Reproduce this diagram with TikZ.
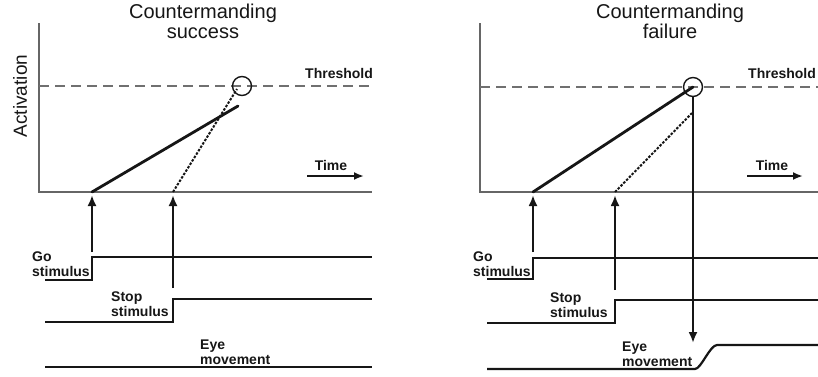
\documentclass[tikz,border=0pt]{standalone}
\usepackage{fontspec}
\setmainfont{Liberation Sans}
\usetikzlibrary{arrows.meta}
\definecolor{ink}{HTML}{161616}
\definecolor{axisgray}{HTML}{666666}
\definecolor{threshgray}{HTML}{707070}
\begin{document}
\begin{tikzpicture}[x=1pt,y=-1pt,
  axis/.style={draw=axisgray, line width=1.7pt},
  thresh/.style={draw=threshgray, line width=2pt, dash pattern=on 10pt off 6pt},
  gotrace/.style={draw=ink, line width=2.8pt, line cap=round},
  stoptrace/.style={draw=ink, line width=2pt, dash pattern=on 2.5pt off 1.5pt},
  signal/.style={draw=ink, line width=2.2pt},
  cue/.style={draw=ink, line width=2.3pt, -{Latex[length=11pt,width=9pt]}},
  timearrow/.style={draw=ink, line width=2.2pt, -{Latex[length=10pt,width=8pt]}},
  ring/.style={draw=ink, line width=1.4pt, circle, minimum size=19pt, inner sep=0pt},
  title/.style={font=\fontsize{20}{20}\selectfont, align=center, text=ink, inner sep=0pt},
  lbl/.style={font=\bfseries\fontsize{14}{15}\selectfont, align=left, text=ink, inner sep=0pt},
]
\useasboundingbox (0,0) rectangle (818,376);

% ---------------- left panel: countermanding success ----------------
\node[title, anchor=north] (Ltitle) at (203,4) {Countermanding\\success};
\node[font=\fontsize{19}{19}\selectfont, text=ink, rotate=90] (act) at (20,96) {Activation};

\coordinate (Lorig) at (39,192);
\coordinate (Ltop) at (39,23);
\coordinate (Lright) at (372,192);
\draw[axis] (Ltop) -- (Lorig) -- (Lright);

\coordinate (Lth0) at (39,86);
\coordinate (Lth1) at (375,86);
\draw[thresh] (Lth0) -- (Lth1);
\node[lbl, anchor=north west] (Lthr) at (305,68) {Threshold};

\node[ring] (Lhit) at (242,86) {};
\coordinate (Lgo) at (92,192);
\coordinate (Lgoend) at (238,106);
\coordinate (Lstop) at (173,192);
\coordinate (Lstopend) at (237,89);
\draw[gotrace] (Lgo) -- (Lgoend);
\draw[stoptrace] (Lstop) -- (Lstopend);

\coordinate (Lt0) at (307,176);
\coordinate (Lt1) at (364,176);
\draw[timearrow] (Lt0) -- (Lt1);
\node[lbl, anchor=base] (Ltime) at (331,170) {Time};

% stimulus and response traces
\coordinate (Lg0) at (45,280);
\coordinate (Lg1) at (92,280);
\coordinate (Lg2) at (92,257);
\coordinate (Lg3) at (372,257);
\draw[signal] (Lg0) -- (Lg1) -- (Lg2) -- (Lg3);
\node[lbl, anchor=north west] (Lgolbl) at (32,252) {Go\\stimulus};
\coordinate (Lgocue) at (92,252);
\draw[cue, shorten >=3pt] (Lgocue) -- (Lgo);

\coordinate (Ls0) at (45,322);
\coordinate (Ls1) at (173,322);
\coordinate (Ls2) at (173,299);
\coordinate (Ls3) at (372,299);
\draw[signal] (Ls0) -- (Ls1) -- (Ls2) -- (Ls3);
\node[lbl, anchor=north west] (Lstoplbl) at (111,292) {Stop\\stimulus};
\coordinate (Lstopcue) at (173,288);
\draw[cue, shorten >=3pt] (Lstopcue) -- (Lstop);

\coordinate (Le0) at (45,367);
\coordinate (Le1) at (372,367);
\draw[signal] (Le0) -- (Le1);
\node[lbl, anchor=north west] (Leyelbl) at (200,340) {Eye\\movement};

% ---------------- right panel: countermanding failure ----------------
\node[title, anchor=north] (Rtitle) at (670,4) {Countermanding\\failure};

\coordinate (Rorig) at (480,192);
\coordinate (Rtop) at (480,23);
\coordinate (Rright) at (818,192);
\draw[axis] (Rtop) -- (Rorig) -- (Rright);

\coordinate (Rth0) at (480,87);
\coordinate (Rth1) at (818,87);
\draw[thresh] (Rth0) -- (Rth1);
\node[lbl, anchor=north west] (Rthr) at (748,68) {Threshold};

\node[ring] (Rhit) at (693,87) {};
\coordinate (Rgo) at (533,192);
\coordinate (Rstop) at (615,192);
\coordinate (Rstopend) at (692,113);
\draw[gotrace] (Rgo) -- (Rhit.center);
\draw[stoptrace] (Rstop) -- (Rstopend);

\coordinate (Rt0) at (747,176);
\coordinate (Rt1) at (803,176);
\draw[timearrow] (Rt0) -- (Rt1);
\node[lbl, anchor=base] (Rtime) at (772,170) {Time};

\coordinate (Rg0) at (487,279);
\coordinate (Rg1) at (533,279);
\coordinate (Rg2) at (533,258);
\coordinate (Rg3) at (818,258);
\draw[signal] (Rg0) -- (Rg1) -- (Rg2) -- (Rg3);
\node[lbl, anchor=north west] (Rgolbl) at (473,252) {Go\\stimulus};
\coordinate (Rgocue) at (533,252);
\draw[cue, shorten >=3pt] (Rgocue) -- (Rgo);

\coordinate (Rs0) at (487,323);
\coordinate (Rs1) at (615,323);
\coordinate (Rs2) at (615,300);
\coordinate (Rs3) at (818,300);
\draw[signal] (Rs0) -- (Rs1) -- (Rs2) -- (Rs3);
\node[lbl, anchor=north west] (Rstoplbl) at (550,293) {Stop\\stimulus};
\coordinate (Rstopcue) at (615,290);
\draw[cue, shorten >=3pt] (Rstopcue) -- (Rstop);

% saccade triggered when the go process reaches threshold
\coordinate (Rsacc) at (693,343);
\draw[cue] (Rhit.south) -- (Rsacc);

\coordinate (Re0) at (487,369);
\coordinate (Re1) at (695,369);
\coordinate (Re2) at (717,345);
\coordinate (Re3) at (818,345);
\draw[signal] (Re0) -- (Re1) .. controls (701,369) and (710,345) .. (Re2) -- (Re3);
\node[lbl, anchor=north west] (Reyelbl) at (622,342) {Eye\\movement};
\end{tikzpicture}
\end{document}
